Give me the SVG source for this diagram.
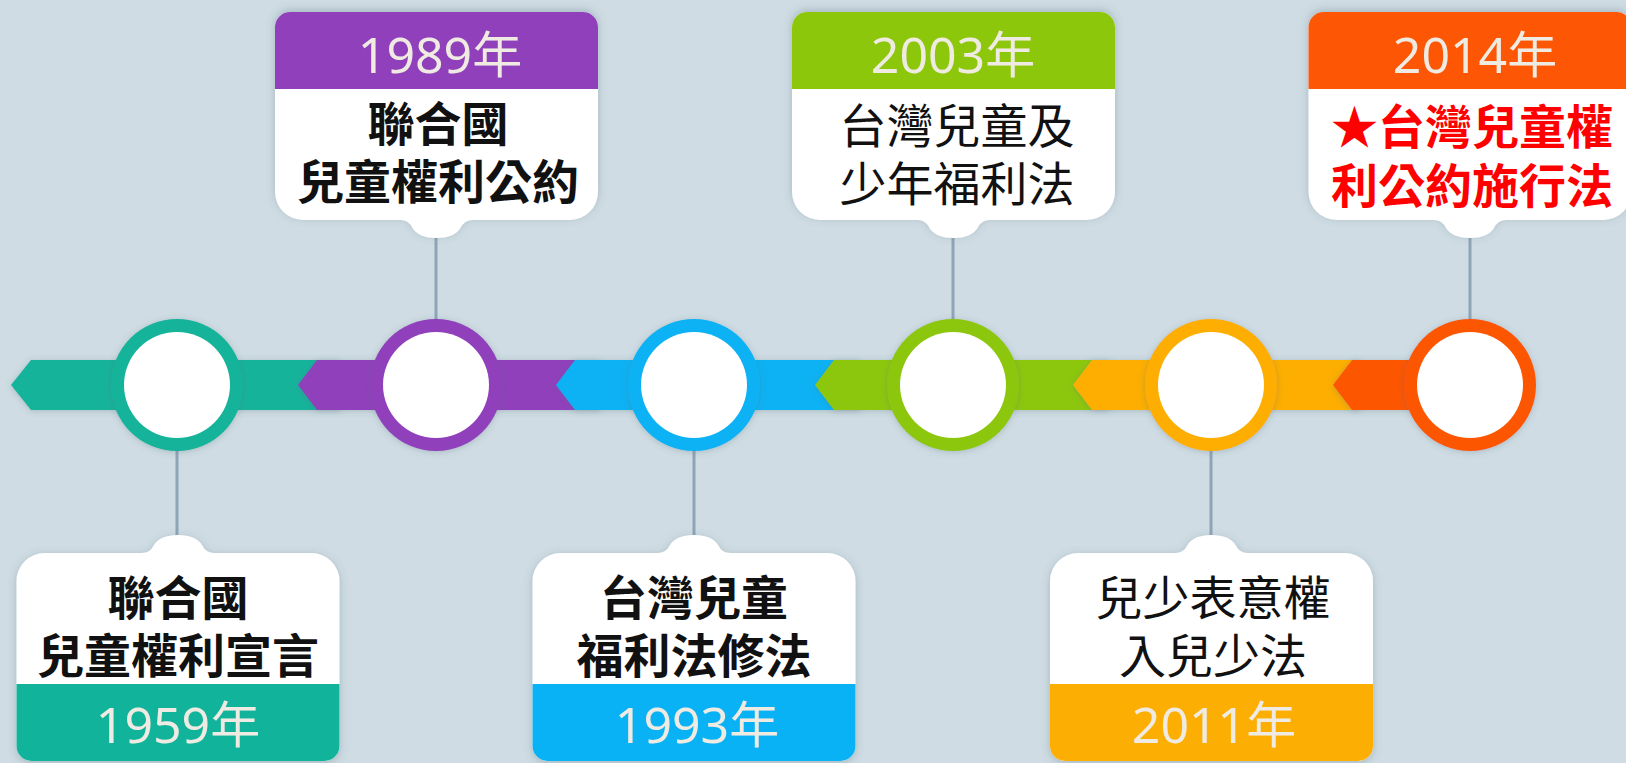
<svg xmlns="http://www.w3.org/2000/svg" width="1626" height="763" viewBox="0 0 1626 763">
<style>
.year{font-family:"Noto Sans","Noto Sans CJK TC",sans-serif;font-size:50px;fill:#efebe3;text-anchor:middle}
.body{font-family:"Noto Sans CJK TC","Noto Sans CJK SC",sans-serif;font-size:47px;fill:#111;text-anchor:middle}
.b{font-weight:700}
.r{font-weight:400}
.red{fill:#ff0000;font-weight:700}
.conn{stroke:#8fa5b7;stroke-width:3;fill:none}
.card{fill:#ffffff;filter:url(#sh)}
.ring{filter:url(#sh2)}
.inner{fill:#ffffff}
</style>
<defs>
<filter id="sh" x="-20%" y="-20%" width="140%" height="140%">
<feDropShadow dx="0" dy="2" stdDeviation="4" flood-color="#4e6777" flood-opacity="0.32"/>
</filter>
<filter id="sh2" x="-20%" y="-20%" width="140%" height="140%">
<feDropShadow dx="0" dy="1" stdDeviation="3" flood-color="#4e6777" flood-opacity="0.3"/>
</filter>
<path id="cardShape" d="M -36 18 Q -28 18 -24 10 Q -18 0 0 0 Q 18 0 24 10 Q 28 18 36 18 H 133.5 A 28 28 0 0 1 161.5 46 V 211 A 15 15 0 0 1 146.5 226 H -146.5 A 15 15 0 0 1 -161.5 211 V 46 A 28 28 0 0 1 -133.5 18 Z"/>
<path id="bandShape" d="M -161.5 149 H 161.5 V 211 A 15 15 0 0 1 146.5 226 H -146.5 A 15 15 0 0 1 -161.5 211 Z"/>
</defs>
<rect width="1626" height="763" fill="#cfdce3"/>

<g id="connectors">
<line class="conn" x1="177" y1="450" x2="177" y2="540"/>
<line class="conn" x1="436" y1="232" x2="436" y2="320"/>
<line class="conn" x1="694" y1="450" x2="694" y2="540"/>
<line class="conn" x1="953" y1="232" x2="953" y2="320"/>
<line class="conn" x1="1211" y1="450" x2="1211" y2="540"/>
<line class="conn" x1="1470" y1="232" x2="1470" y2="320"/>
</g>

<g id="timeline-band">
<polygon points="11,385 31,360 340,360 340,410 31,410" fill="#12b39b" filter="url(#sh2)"/>
<polygon points="298,385 317,360 600,360 600,410 317,410" fill="#9040bb" filter="url(#sh2)"/>
<polygon points="556,385 575,360 860,360 860,410 575,410" fill="#08b2f4" filter="url(#sh2)"/>
<polygon points="815,385 834,360 1110,360 1110,410 834,410" fill="#8dc70b" filter="url(#sh2)"/>
<polygon points="1073,385 1092,360 1360,360 1360,410 1092,410" fill="#fdae03" filter="url(#sh2)"/>
<polygon points="1333,385 1352,360 1470,360 1470,410 1352,410" fill="#fd5604" filter="url(#sh2)"/>
</g>

<g id="node-1959">
<circle class="ring" cx="177" cy="385" r="66" fill="#12b39b"/>
<circle class="inner" cx="177" cy="385" r="53"/>
<g transform="translate(178,535)">
<use href="#cardShape" class="card"/>
<use href="#bandShape" fill="#12b39b"/>
</g>
<text class="body b" x="178" y="615">聯合國</text>
<text class="body b" x="178" y="673">兒童權利宣言</text>
<text class="year" x="178" y="743">1959年</text>
</g>

<g id="node-1989">
<circle class="ring" cx="436" cy="385" r="66" fill="#9040bb"/>
<circle class="inner" cx="436" cy="385" r="53"/>
<g transform="translate(436.5,238) scale(1,-1)">
<use href="#cardShape" class="card"/>
<use href="#bandShape" fill="#9040bb"/>
</g>
<text class="year" x="440" y="73">1989年</text>
<text class="body b" x="438" y="141">聯合國</text>
<text class="body b" x="438" y="199">兒童權利公約</text>
</g>

<g id="node-1993">
<circle class="ring" cx="694" cy="385" r="66" fill="#08b2f4"/>
<circle class="inner" cx="694" cy="385" r="53"/>
<g transform="translate(694,535)">
<use href="#cardShape" class="card"/>
<use href="#bandShape" fill="#08b2f4"/>
</g>
<text class="body b" x="694" y="615">台灣兒童</text>
<text class="body b" x="694" y="673">福利法修法</text>
<text class="year" x="697" y="743">1993年</text>
</g>

<g id="node-2003">
<circle class="ring" cx="953" cy="385" r="66" fill="#8dc70b"/>
<circle class="inner" cx="953" cy="385" r="53"/>
<g transform="translate(953.5,238) scale(1,-1)">
<use href="#cardShape" class="card"/>
<use href="#bandShape" fill="#8dc70b"/>
</g>
<text class="year" x="953" y="73">2003年</text>
<text class="body r" x="957" y="143">台灣兒童及</text>
<text class="body r" x="957" y="201">少年福利法</text>
</g>

<g id="node-2011">
<circle class="ring" cx="1211" cy="385" r="66" fill="#fdae03"/>
<circle class="inner" cx="1211" cy="385" r="53"/>
<g transform="translate(1211.5,535)">
<use href="#cardShape" class="card"/>
<use href="#bandShape" fill="#fdae03"/>
</g>
<text class="body r" x="1213" y="615">兒少表意權</text>
<text class="body r" x="1213" y="673">入兒少法</text>
<text class="year" x="1214" y="743">2011年</text>
</g>

<g id="node-2014">
<circle class="ring" cx="1470" cy="385" r="66" fill="#fd5604"/>
<circle class="inner" cx="1470" cy="385" r="53"/>
<g transform="translate(1470,238) scale(1,-1)">
<use href="#cardShape" class="card"/>
<use href="#bandShape" fill="#fd5604"/>
</g>
<text class="year" x="1475" y="73">2014年</text>
<text class="body red" x="1472" y="144">★台灣兒童權</text>
<text class="body red" x="1472" y="203">利公約施行法</text>
</g>
</svg>
